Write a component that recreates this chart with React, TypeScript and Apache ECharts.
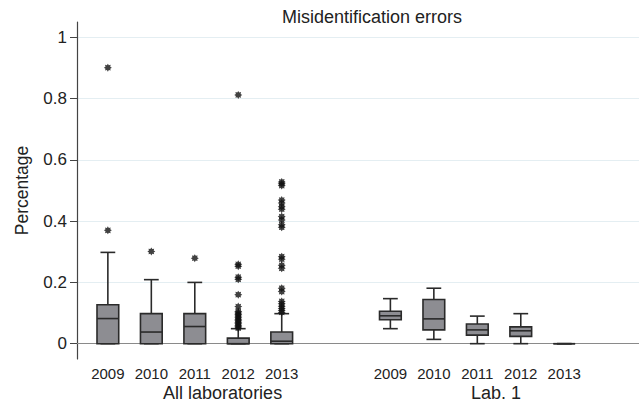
import React, { useEffect, useRef } from "react";
import * as echarts from "echarts";

const years = ["2009", "2010", "2011", "2012", "2013"];
const groups = ["All laboratories", "Lab. 1"];

// [min, Q1, median, Q3, max] per year
const allLabsBoxes = [
  [0, 0, 0.082, 0.127, 0.298],
  [0, 0, 0.038, 0.098, 0.209],
  [0, 0, 0.056, 0.098, 0.2],
  [0, 0, 0.0, 0.018, 0.049],
  [0, 0, 0.008, 0.038, 0.098],
];
const lab1Boxes = [
  [0.049, 0.078, 0.091, 0.106, 0.147],
  [0.014, 0.045, 0.081, 0.144, 0.181],
  [0, 0.028, 0.045, 0.064, 0.09],
  [0, 0.024, 0.042, 0.055, 0.098],
  [0, 0, 0, 0, 0],
];

const allLabsOutliers = [
  [0.37, 0.901],
  [0.301],
  [0.279],
  [0.812, 0.259, 0.253, 0.217, 0.21, 0.16, 0.121, 0.105, 0.1, 0.095, 0.09, 0.085, 0.08, 0.075, 0.07, 0.065, 0.06, 0.055, 0.051],
  [0.528, 0.522, 0.516, 0.469, 0.459, 0.447, 0.439, 0.415, 0.404, 0.388, 0.38, 0.284, 0.276, 0.256, 0.246, 0.181, 0.17, 0.138, 0.13, 0.122, 0.115, 0.108, 0.102],
];
const lab1Outliers: number[][] = [[], [], [], [], []];

const yTicks = [0, 0.2, 0.4, 0.6, 0.8, 1];

function starPath(points: number, outer: number, inner: number) {
  let d = "";
  for (let k = 0; k < points * 2; k++) {
    const r = k % 2 === 0 ? outer : inner;
    const a = (Math.PI * k) / points - Math.PI / 2;
    const x = (50 + r * Math.cos(a)).toFixed(2);
    const y = (50 + r * Math.sin(a)).toFixed(2);
    d += (k === 0 ? "M" : "L") + x + " " + y + " ";
  }
  return "path://" + d + "Z";
}

export default function App() {
  const ref = useRef<HTMLDivElement>(null);
  useEffect(() => {
    if (!ref.current) return;
    const chart = echarts.init(ref.current, null, { renderer: "svg" });

    const groupGap = 6.5;
    const posOf = (gi: number, i: number) => gi * groupGap + i + 1;
    const boxSets = [allLabsBoxes, lab1Boxes];
    const outSets = [allLabsOutliers, lab1Outliers];

    const boxData: number[][] = [];
    const outData: number[][] = [];
    const yearPos: number[] = [];
    const yearLabelMap: Record<string, string> = {};
    boxSets.forEach((set, gi) => {
      set.forEach((b, i) => {
        const p = posOf(gi, i);
        boxData.push([p, ...b]);
        yearPos.push(p);
        yearLabelMap[String(p)] = years[i];
        outSets[gi][i].forEach((v) => outData.push([p, v]));
      });
    });
    const groupPos = [posOf(0, 2) + 0.64, posOf(1, 2) + 0.43];
    const groupLabelMap: Record<string, string> = {};
    groupPos.forEach((p, gi) => (groupLabelMap[String(p)] = groups[gi]));

    const font = "Liberation Sans, Arial, sans-serif";
    const textColor = "#222";
    const boxW = 0.5;
    const capW = 0.34;

    chart.setOption({
      animation: false,
      title: {
        text: "Misidentification errors",
        left: 277,
        top: 3,
        textStyle: { fontFamily: font, fontSize: 18, fontWeight: "normal", color: textColor },
      },
      grid: { left: 77, right: 0, top: 22, bottom: 50, containLabel: false },
      xAxis: [
        {
          type: "value",
          min: 0.29,
          max: 13.22,
          position: "bottom",
          axisLine: { show: true, lineStyle: { color: "#8a8a8a", width: 1.2 } },
          axisTick: { show: false },
          splitLine: { show: false },
          axisLabel: {
            customValues: yearPos,
            formatter: (v: number) => yearLabelMap[String(v)] || "",
            fontFamily: font,
            fontSize: 15,
            color: textColor,
            margin: 7,
          },
        },
        {
          type: "value",
          min: 0.29,
          max: 13.22,
          position: "bottom",
          axisLine: { show: false },
          axisTick: { show: false },
          splitLine: { show: false },
          axisLabel: {
            customValues: groupPos,
            formatter: (v: number) => groupLabelMap[String(v)] || "",
            fontFamily: font,
            fontSize: 18,
            color: textColor,
            margin: 25,
          },
        },
      ],
      yAxis: {
        type: "value",
        min: -0.05,
        max: 1.05,
        name: "Percentage",
        nameLocation: "middle",
        nameRotate: 90,
        nameGap: 46,
        nameTextStyle: { fontFamily: font, fontSize: 17.5, color: textColor },
        axisLine: { show: true, lineStyle: { color: "#444", width: 1.2 } },
        axisTick: { show: true, length: 7, customValues: yTicks, lineStyle: { color: "#444" } },
        axisLabel: {
          customValues: yTicks,
          formatter: (v: number) => String(Math.round(v * 10) / 10),
          fontFamily: font,
          fontSize: 17,
          color: textColor,
          margin: 10,
        },
        splitLine: { show: true, lineStyle: { color: "#e4eef2", width: 1.2 } },
      },
      series: [
        {
          type: "custom",
          xAxisIndex: 0,
          data: boxData,
          renderItem: (params: any, api: any) => {
            const x = api.value(0);
            const mn = api.coord([x, api.value(1)]);
            const q1 = api.coord([x, api.value(2)]);
            const md = api.coord([x, api.value(3)]);
            const q3 = api.coord([x, api.value(4)]);
            const mx = api.coord([x, api.value(5)]);
            const l = api.coord([x - boxW / 2, 0])[0];
            const r = api.coord([x + boxW / 2, 0])[0];
            const cl = api.coord([x - capW / 2, 0])[0];
            const cr = api.coord([x + capW / 2, 0])[0];
            const cx = mn[0];
            const stroke = { stroke: "#2a2a2a", lineWidth: 1.6, fill: null };
            return {
              type: "group",
              children: [
                { type: "line", shape: { x1: cx, y1: q3[1], x2: cx, y2: mx[1] }, style: stroke },
                { type: "line", shape: { x1: cx, y1: q1[1], x2: cx, y2: mn[1] }, style: stroke },
                { type: "line", shape: { x1: cl, y1: mx[1], x2: cr, y2: mx[1] }, style: stroke },
                { type: "line", shape: { x1: cl, y1: mn[1], x2: cr, y2: mn[1] }, style: stroke },
                {
                  type: "rect",
                  shape: { x: l, y: q3[1], width: r - l, height: q1[1] - q3[1] },
                  style: { fill: "#8d8d92", stroke: "#2a2a2a", lineWidth: 1.6 },
                },
                { type: "line", shape: { x1: l, y1: md[1], x2: r, y2: md[1] }, style: stroke },
              ],
            };
          },
        },
        {
          type: "scatter",
          xAxisIndex: 0,
          data: outData,
          symbol: starPath(8, 50, 32),
          symbolSize: 8,
          itemStyle: { color: "#111" },
        },
      ],
    });
    return () => chart.dispose();
  }, []);
  return <div ref={ref} style={{ width: 639, height: 409, position: "absolute", left: 0, top: 0 }} />;
}
